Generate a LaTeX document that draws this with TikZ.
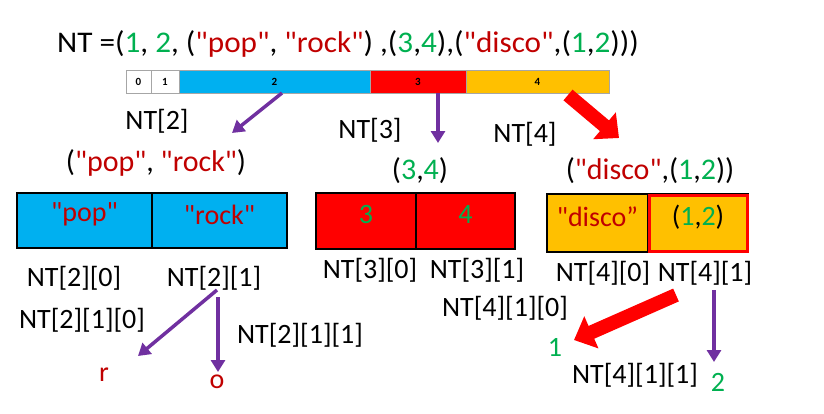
\documentclass[tikz,border=0pt]{standalone}
\usepackage{fontspec}
\setmainfont{Carlito}[Ligatures=TeXOff]
\usetikzlibrary{positioning, arrows.meta}
\definecolor{cblue}{HTML}{00B0F0}
\definecolor{cred}{HTML}{FF0000}
\definecolor{corange}{HTML}{FFC000}
\definecolor{cpurple}{HTML}{7030A0}
\definecolor{cgreen}{HTML}{00B050}
\definecolor{cdred}{HTML}{C00000}
\newcommand{\gn}[1]{\textcolor{cgreen}{#1}}
\newcommand{\rd}[1]{\textcolor{cdred}{#1}}
\begin{document}
\begin{tikzpicture}[x=1pt, y=-1pt,
    lbl/.style={font=\fontsize{28}{30}\selectfont, inner sep=0pt},
    ttl/.style={font=\fontsize{30}{32}\selectfont, inner sep=0pt},
    btxt/.style={font=\fontsize{28}{30}\selectfont, inner sep=0pt},
    idx/.style={draw=gray!70, fill=white, inner sep=0pt, outer sep=0pt, minimum height=23, font=\fontsize{11}{12}\selectfont\bfseries},
    cell/.style={draw, line width=1.2pt, inner sep=0pt, outer sep=0pt},
    parr/.style={draw=cpurple, line width=3.5pt, -{Triangle[length=12pt,width=14pt]}},
    bigarr/.style={draw=cred, line width=14pt, -{Triangle[length=19pt,width=34pt]}}]
\useasboundingbox (0,0) rectangle (824,413);

% Tuple
\node[ttl, anchor=west, xscale=1.04] (nt) at (57,44) {NT =(\gn{1}, \gn{2}, (\rd{"pop"}, \rd{"rock"}) ,(\gn{3},\gn{4}),(\rd{"disco"},(\gn{1},\gn{2})))};

% Index bar
\node[idx, minimum width=25] (c0) at (138.5,81.5) {0};
\node[idx, minimum width=28, right=0pt of c0] (c1) {1};
\node[idx, fill=cblue, minimum width=191, right=0pt of c1] (c2) {2};
\node[idx, fill=cred, minimum width=96, right=0pt of c2] (c3) {3};
\node[idx, fill=corange, minimum width=143, right=0pt of c3] (c4) {4};

% First level
\node[lbl] (nt2) at (157,121) {NT[2]};
\node[lbl] (nt3) at (370,130) {NT[3]};
\node[lbl] (nt4) at (525,134) {NT[4]};
\coordinate (e2) at (232,133);
\coordinate (e3) at (438,143);
\coordinate (t4) at (568,95);
\coordinate (e4) at (619,138);
\draw[parr] ([xshift=7.5pt]c2.south) -- (e2);
\draw[parr] ([xshift=20pt]c3.south) -- (e3);
\draw[bigarr] (t4) -- (e4);

\node[ttl] (pr) at (156,163) {(\rd{"pop"}, \rd{"rock"})};
\node[ttl] (tp34) at (420,171) {(\gn{3},\gn{4})};
\node[ttl] (dc) at (650,171) {(\rd{"disco"},(\gn{1},\gn{2}))};

% Boxes
\node[cell, fill=cblue, minimum width=135, minimum height=55] (pop) at (84.5,220.5) {};
\node[cell, fill=cblue, minimum width=135, minimum height=55, right=0pt of pop] (rock) {};
\node[cell, fill=cred, minimum width=100, minimum height=56] (b3) at (366,221) {};
\node[cell, fill=cred, minimum width=99, minimum height=56, right=0pt of b3] (b4) {};
\node[cell, fill=corange, minimum width=101, minimum height=58] (disco) at (597.5,223) {};
\node[cell, fill=corange, minimum width=100, minimum height=58, right=0pt of disco] (p12) {};
\draw[draw=cred, line width=3pt] ([shift={(1pt,-1pt)}]p12.north west) rectangle ([shift={(-1pt,1pt)}]p12.south east);

\node[btxt] (tpop) at ([yshift=6pt]pop.center) {\rd{"pop"}};
\node[btxt] (trock) at ([yshift=6pt]rock.center) {\rd{"rock"}};
\node[btxt] (t3) at ([yshift=6pt]b3.center) {\gn{3}};
\node[btxt] (t4n) at ([yshift=6pt]b4.center) {\gn{4}};
\node[btxt] (tdisco) at ([yshift=6pt]disco.center) {\rd{"disco”}};
\node[btxt] (tp12) at ([yshift=6pt]p12.center) {(\gn{1},\gn{2})};

% Second level
\node[lbl] (nt20) at (74,278) {NT[2][0]};
\node[lbl] (nt21) at (214,278) {NT[2][1]};
\node[lbl] (nt30) at (370,270) {NT[3][0]};
\node[lbl] (nt31) at (477,270) {NT[3][1]};
\node[lbl] (nt40) at (603,273) {NT[4][0]};
\node[lbl] (nt41) at (705,273) {NT[4][1]};

% Third level
\node[lbl] (nt210) at (82,320) {NT[2][1][0]};
\node[lbl] (nt211) at (300,335) {NT[2][1][1]};
\node[lbl] (nt410) at (505,308) {NT[4][1][0]};
\node[lbl] (nt411) at (635,375) {NT[4][1][1]};
\node[lbl] (r) at (104,375) {\rd{r}};
\node[lbl] (o) at (217,382) {\rd{o}};
\node[lbl] (one) at (555,347) {\gn{1}};
\node[lbl] (two) at (718,382) {\gn{2}};

\coordinate (s21a) at (217,290);
\coordinate (s21b) at (218,297);
\coordinate (er) at (138,356);
\coordinate (eo) at (218,372);
\draw[parr] (s21a) -- (er);
\draw[parr] (s21b) -- (eo);
\coordinate (s41) at (676,295);
\coordinate (e1) at (574,340);
\coordinate (s41b) at (714,290);
\coordinate (e2b) at (714,362);
\draw[bigarr] (s41) -- (e1);
\draw[parr] (s41b) -- (e2b);
\end{tikzpicture}
\end{document}
